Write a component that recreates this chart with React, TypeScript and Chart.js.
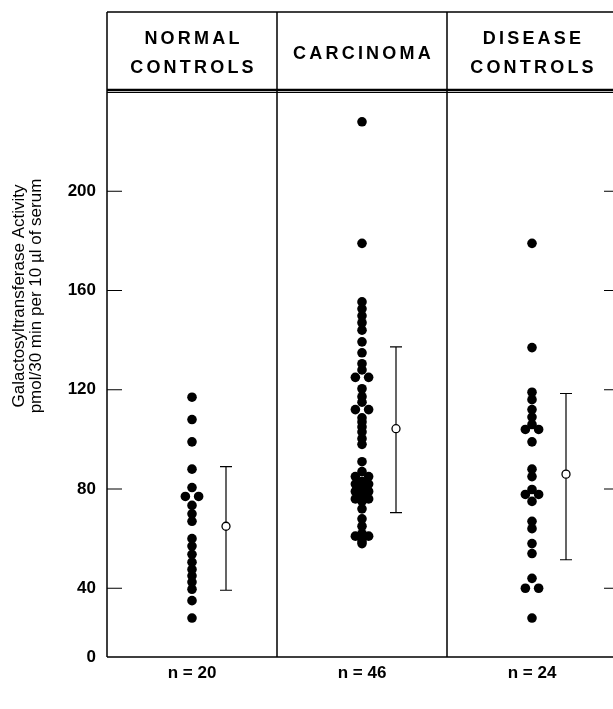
import React, { useEffect, useRef } from "react";
import { Chart, registerables } from "chart.js";

Chart.register(...registerables);

// ---- data ----
const headerLines: string[][] = [["NORMAL", "CONTROLS"], ["CARCINOMA"], ["DISEASE", "CONTROLS"]];
const sampleSizes = ["n = 20", "n = 46", "n = 24"];

const normalValues = [117, 108, 99, 88, 80.6, 77, 77, 73.4, 70, 67, 60, 57, 53.7, 50.5, 47.6, 45, 42.5, 39.6, 35, 28];
const carcinomaValues = [
  228, 179, 155.4, 152.6, 149.8, 147, 144, 139.3, 134.9, 130.5, 128, 125, 125, 120.4, 117.2, 115, 112, 112,
  108.7, 107, 105, 103, 100.3, 98, 91, 87, 85, 85, 83, 82, 82, 80, 79, 79, 77, 76, 76, 75, 72, 68, 65, 62, 61,
  61, 59, 58,
];
const diseaseValues = [179, 137, 119, 116, 112, 109, 106, 104, 104, 99, 88, 85, 79.8, 77.8, 77.8, 75, 67, 64, 58, 54, 44, 40, 40, 28];

const meanValues = [65, 104.3, 86];
const sdUpper = [89, 137.3, 118.5];
const sdLower = [39.2, 70.5, 51.5];

const yTickValues = [40, 80, 120, 160, 200];
const yAxisBottom = 12.3; // value at the bottom frame, labelled "0" in the figure
const yAxisTop = 240;
const yAxisTitle = ["Galactosyltransferase Activity", "pmol/30 min per 10 \u00b5l of serum"];

// ---- helpers ----
function swarm(values: number[], gi: number) {
  const counts: Record<string, number> = {};
  values.forEach((v) => (counts[v] = (counts[v] || 0) + 1));
  const seen: Record<string, number> = {};
  return values.map((v) => {
    const n = counts[v];
    const i = seen[v] || 0;
    seen[v] = i + 1;
    const step = n === 2 ? 0.078 : 0.052;
    return { x: gi + (i - (n - 1) / 2) * step, y: v };
  });
}

const FONT = '"Liberation Sans", Arial, sans-serif';
const CANVAS_W = 640;

const framePlugin = {
  id: "frame",
  beforeDatasetsDraw(chart: any) {
    const { ctx, scales } = chart;
    const { x, y } = scales;
    ctx.save();
    ctx.strokeStyle = "#000";
    ctx.lineWidth = 1.2;
    meanValues.forEach((m, i) => {
      const px = x.getPixelForValue(i + 0.2);
      const yt = y.getPixelForValue(sdUpper[i]);
      const yb = y.getPixelForValue(sdLower[i]);
      ctx.beginPath();
      ctx.moveTo(px, yt);
      ctx.lineTo(px, yb);
      ctx.moveTo(px - 6, yt);
      ctx.lineTo(px + 6, yt);
      ctx.moveTo(px - 6, yb);
      ctx.lineTo(px + 6, yb);
      ctx.stroke();
    });
    ctx.restore();
  },
  afterDraw(chart: any) {
    const { ctx, chartArea, scales } = chart;
    const { left, right, top, bottom } = chartArea;
    const { x, y } = scales;
    const headerTop = 12;
    ctx.save();
    ctx.strokeStyle = "#000";
    ctx.lineWidth = 1.5;
    ctx.beginPath();
    ctx.moveTo(left, headerTop);
    ctx.lineTo(left, bottom);
    ctx.moveTo(left, headerTop);
    ctx.lineTo(right, headerTop);
    ctx.moveTo(left, bottom);
    ctx.lineTo(right, bottom);
    ctx.moveTo(right, headerTop);
    ctx.lineTo(right, bottom);
    [0.5, 1.5].forEach((v) => {
      const px = x.getPixelForValue(v);
      ctx.moveTo(px, headerTop);
      ctx.lineTo(px, bottom);
    });
    ctx.stroke();
    // header double rule
    ctx.lineWidth = 2.5;
    ctx.beginPath();
    ctx.moveTo(left, top - 2);
    ctx.lineTo(right, top - 2);
    ctx.stroke();
    ctx.lineWidth = 1;
    ctx.beginPath();
    ctx.moveTo(left, top + 0.5);
    ctx.lineTo(right, top + 0.5);
    ctx.stroke();
    // ticks (inward)
    ctx.lineWidth = 1.2;
    ctx.beginPath();
    yTickValues.forEach((v) => {
      const py = y.getPixelForValue(v);
      ctx.moveTo(left, py);
      ctx.lineTo(left + 15, py);
      ctx.moveTo(right - 13, py);
      ctx.lineTo(right, py);
    });
    ctx.stroke();
    // header text
    ctx.fillStyle = "#000";
    ctx.font = `bold 18px ${FONT}`;
    (ctx as any).letterSpacing = "3.2px";
    ctx.textAlign = "center";
    ctx.textBaseline = "middle";
    const mid = (headerTop + top) / 2 + 2;
    headerLines.forEach((lines, i) => {
      const px = x.getPixelForValue(i) + 1.5;
      lines.forEach((t, j) => {
        const py = mid + (j - (lines.length - 1) / 2) * 29;
        ctx.fillText(t, px, py);
      });
    });
    (ctx as any).letterSpacing = "0px";
    // y axis title
    ctx.font = `17px ${FONT}`;
    ctx.translate(28, 296);
    ctx.rotate(-Math.PI / 2);
    yAxisTitle.forEach((t, j) => {
      ctx.fillText(t, 0, (j - 0.5) * 17);
    });
    ctx.restore();
  },
};

export default function App() {
  const ref = useRef<HTMLCanvasElement | null>(null);
  useEffect(() => {
    if (!ref.current) return;
    const groups = [normalValues, carcinomaValues, diseaseValues];
    const datasets: any[] = groups.map((vals, gi) => ({
      data: swarm(vals, gi),
      backgroundColor: "#000",
      borderWidth: 0,
      pointRadius: 4.8,
    }));
    datasets.push({
      data: meanValues.map((m, i) => ({ x: i + 0.2, y: m })),
      backgroundColor: "#fff",
      borderColor: "#000",
      borderWidth: 1.3,
      pointRadius: 4,
    });
    const chart = new Chart(ref.current, {
      type: "scatter",
      data: { datasets },
      plugins: [framePlugin],
      options: {
        animation: false,
        responsive: false,
        layout: { padding: { top: 92, right: 23, bottom: 0, left: 0 } },
        plugins: { legend: { display: false }, tooltip: { enabled: false } },
        scales: {
          x: {
            type: "linear",
            min: -0.5,
            max: 2.5,
            grid: { display: false, drawTicks: false },
            border: { display: false },
            afterBuildTicks: (s: any) => {
              s.ticks = [0, 1, 2].map((v) => ({ value: v }));
            },
            afterFit: (s: any) => {
              s.height = 52;
            },
            ticks: {
              autoSkip: false,
              maxRotation: 0,
              padding: 6,
              color: "#000",
              font: { family: FONT, size: 17, weight: "bold" },
              callback: (_v: any, i: number) => sampleSizes[i],
            },
          },
          y: {
            min: yAxisBottom,
            max: yAxisTop,
            grid: { display: false, drawTicks: false },
            border: { display: false },
            afterBuildTicks: (s: any) => {
              s.ticks = [yAxisBottom, ...yTickValues].map((v) => ({ value: v }));
            },
            afterFit: (s: any) => {
              s.width = 107;
            },
            ticks: {
              autoSkip: false,
              padding: 11,
              color: "#000",
              font: { family: FONT, size: 17, weight: "bold" },
              callback: (v: any) => (v < 20 ? "0" : String(v)),
            },
          },
        },
      },
    });
    return () => chart.destroy();
  }, []);
  return (
    <div style={{ position: "absolute", left: 0, top: 0, width: 613, height: 709, overflow: "hidden", background: "#fff" }}>
      <canvas ref={ref} width={CANVAS_W} height={709} style={{ display: "block" }} />
    </div>
  );
}
